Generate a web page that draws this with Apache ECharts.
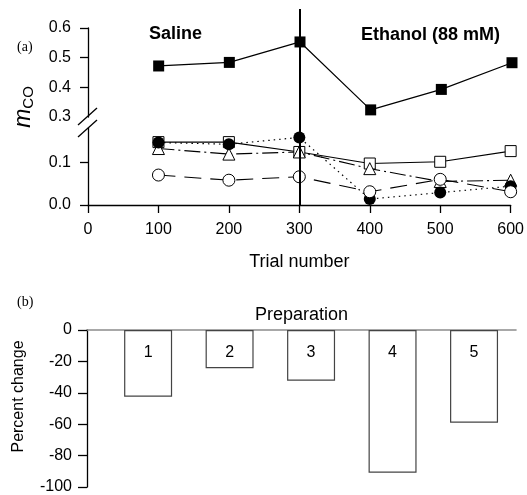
<!DOCTYPE html>
<html>
<head>
<meta charset="utf-8">
<script src="https://cdn.jsdelivr.net/npm/echarts@6/dist/echarts.min.js"></script>
<style>
html,body{margin:0;padding:0;background:#fff;}
#chart{width:527px;height:495px;}
</style>
</head>
<body>
<div id="chart"></div>
<script>
// ---- data ----
var trials = [100, 200, 300, 400, 500, 600];
var filledSquare = [0.472, 0.484, 0.553, 0.324, 0.393, 0.483];
var openSquare = [0.147, 0.147, 0.124, 0.097, 0.101, 0.126];
var openTriangle = [0.132, 0.119, 0.124, 0.085, 0.055, 0.058];
var filledCircle = [0.146, 0.142, 0.158, 0.014, 0.029, 0.044];
var openCircle = [0.070, 0.058, 0.066, 0.031, 0.060, 0.031];
var switchTrial = 300;
var upperTicks = [0.3, 0.4, 0.5, 0.6];
var lowerTicks = [0.0, 0.1];
var xTicks = [0, 100, 200, 300, 400, 500, 600];

var preparations = [1, 2, 3, 4, 5];
var percentChange = [-42.5, -24.4, -32.3, -90.9, -59.0];
var percentTicks = [0, -20, -40, -60, -80, -100];

function pairs(xs, ys) { return xs.map(function (x, i) { return [x, ys[i]]; }); }

var FONT = 'Liberation Sans, Arial, sans-serif';
var SERIF = 'Liberation Serif, DejaVu Serif, serif';
var axisLineStyle = { color: '#000', width: 1.3 };

var chart = echarts.init(document.getElementById('chart'), null, { renderer: 'canvas' });

var option = {
  animation: false,
  backgroundColor: '#fff',
  title: [
    { text: '(a)', left: 12, top: 35, textStyle: { fontFamily: SERIF, fontSize: 14, fontWeight: 'normal', color: '#000' } },
    { text: '(b)', left: 12, top: 290, textStyle: { fontFamily: SERIF, fontSize: 14, fontWeight: 'normal', color: '#000' } },
    { text: 'Saline', left: 144, top: 20, textStyle: { fontFamily: FONT, fontSize: 18, fontWeight: 'bold', color: '#000' } },
    { text: 'Ethanol (88 mM)', left: 356, top: 21, textStyle: { fontFamily: FONT, fontSize: 18, fontWeight: 'bold', color: '#000' } }
  ],
  grid: [
    { left: 88, width: 424, top: 9, height: 196 },   // overlay (switch line)
    { left: 88, width: 424, top: 28, height: 89 },   // upper segment
    { left: 88, width: 424, top: 128, height: 77 },  // lower segment
    { left: 87, width: 429, top: 330, height: 157 }  // panel b
  ],
  xAxis: [
    { gridIndex: 0, type: 'value', min: 0, max: 600, show: false },
    { gridIndex: 1, type: 'value', min: 0, max: 600, show: false },
    {
      gridIndex: 2, type: 'value', min: 0, max: 600, interval: 100,
      name: 'Trial number', nameLocation: 'middle', nameGap: 48,
      nameTextStyle: { fontFamily: FONT, fontSize: 18, color: '#000' },
      axisLine: { show: true, lineStyle: axisLineStyle },
      axisTick: { show: true, length: 8, lineStyle: axisLineStyle },
      axisLabel: { show: true, margin: 17, fontFamily: FONT, fontSize: 16, color: '#000',
        customValues: xTicks },
      splitLine: { show: false }
    },
    {
      gridIndex: 3, type: 'value', min: 0.25, max: 5.515, position: 'top',
      name: 'Preparation', nameLocation: 'middle', nameGap: 6,
      nameTextStyle: { fontFamily: FONT, fontSize: 18, color: '#000' },
      axisLine: { show: true, onZero: false, lineStyle: { color: '#8c8c8c', width: 1.6 } },
      axisTick: { show: false }, axisLabel: { show: false }, splitLine: { show: false }
    }
  ],
  yAxis: [
    {
      gridIndex: 0, type: 'value', min: 0, max: 1,
      name: '{m|m}{s|CO}', nameLocation: 'middle', nameGap: 52,
      nameTextStyle: { color: '#000', padding: [0, 0, 0, 0], rich: {
        m: { fontFamily: FONT, fontStyle: 'italic', fontSize: 23, color: '#000' },
        s: { fontFamily: FONT, fontSize: 15, color: '#000', padding: [10, 0, 0, 0] }
      } },
      axisLine: { show: false }, axisTick: { show: false }, axisLabel: { show: false }, splitLine: { show: false }
    },
    {
      gridIndex: 1, type: 'value', min: 0.3, max: 0.6,
      axisLine: { show: true, lineStyle: axisLineStyle },
      axisTick: { show: true, length: 8, lineStyle: axisLineStyle, customValues: [0.4, 0.5, 0.6] },
      axisLabel: { show: true, margin: 17, fontFamily: FONT, fontSize: 16, color: '#000',
        customValues: upperTicks, formatter: function (v) { return v.toFixed(1); } },
      splitLine: { show: false }
    },
    {
      gridIndex: 2, type: 'value', min: 0, max: 0.18,
      axisLine: { show: true, lineStyle: axisLineStyle },
      axisTick: { show: true, length: 8, lineStyle: axisLineStyle, customValues: lowerTicks },
      axisLabel: { show: true, margin: 17, fontFamily: FONT, fontSize: 16, color: '#000',
        customValues: lowerTicks, formatter: function (v) { return v.toFixed(1); } },
      splitLine: { show: false }
    },
    {
      gridIndex: 3, type: 'value', min: -100, max: 0, interval: 20,
      name: 'Percent change', nameLocation: 'middle', nameGap: 60,
      nameTextStyle: { fontFamily: FONT, fontSize: 16, color: '#000', padding: [0, 0, 0, 24] },
      axisLine: { show: true, lineStyle: axisLineStyle },
      axisTick: { show: true, length: 9, lineStyle: axisLineStyle },
      axisLabel: { show: true, margin: 15, fontFamily: FONT, fontSize: 16, color: '#000',
        customValues: percentTicks },
      splitLine: { show: false }
    }
  ],
  graphic: [
    { type: 'line', shape: { x1: 78, y1: 125, x2: 97, y2: 108 }, style: { stroke: '#000', lineWidth: 1.3 }, z: 100 },
    { type: 'line', shape: { x1: 78, y1: 137, x2: 97, y2: 120 }, style: { stroke: '#000', lineWidth: 1.3 }, z: 100 }
  ],
  series: [
    {
      name: 'filled squares', type: 'line', xAxisIndex: 1, yAxisIndex: 1,
      data: pairs(trials, filledSquare), symbol: 'rect', symbolSize: 11,
      lineStyle: { color: '#000', width: 1.2 },
      itemStyle: { color: '#000', borderColor: '#000', borderWidth: 0 }, z: 3
    },
    {
      name: 'open squares', type: 'line', xAxisIndex: 2, yAxisIndex: 2,
      data: pairs(trials, openSquare), symbol: 'rect', symbolSize: 11,
      lineStyle: { color: '#000', width: 1.1, type: 'solid' },
      itemStyle: { color: '#fff', borderColor: '#000', borderWidth: 1 }, z: 3
    },
    {
      name: 'open triangles', type: 'line', xAxisIndex: 2, yAxisIndex: 2,
      data: pairs(trials, openTriangle), symbol: 'triangle', symbolSize: 12,
      lineStyle: { color: '#000', width: 1.1, type: [16, 4, 2, 4] },
      itemStyle: { color: '#fff', borderColor: '#000', borderWidth: 1 }, z: 3
    },
    {
      name: 'filled circles', type: 'line', xAxisIndex: 2, yAxisIndex: 2,
      data: pairs(trials, filledCircle), symbol: 'circle', symbolSize: 12,
      lineStyle: { color: '#000', width: 1.2, type: [1.5, 4] },
      itemStyle: { color: '#000', borderColor: '#000', borderWidth: 0 }, z: 3
    },
    {
      name: 'open circles', type: 'line', xAxisIndex: 2, yAxisIndex: 2,
      data: pairs(trials, openCircle), symbol: 'circle', symbolSize: 12,
      lineStyle: { color: '#000', width: 1.1, type: [17, 9] },
      itemStyle: { color: '#fff', borderColor: '#000', borderWidth: 1 }, z: 3
    },
    {
      name: 'switch', type: 'line', xAxisIndex: 0, yAxisIndex: 0, data: [], z: 10,
      markLine: {
        silent: true, symbol: 'none', label: { show: false },
        lineStyle: { color: '#000', width: 2, type: 'solid' },
        data: [{ xAxis: switchTrial }]
      }
    },
    {
      name: 'percent change', type: 'bar', xAxisIndex: 3, yAxisIndex: 3,
      data: pairs(preparations, percentChange), barWidth: 48,
      itemStyle: { color: '#fff', borderColor: '#444', borderWidth: 1.2 },
      label: { show: true, position: 'insideTop', distance: 15, fontFamily: FONT, fontSize: 16, color: '#000',
        formatter: function (p) { return String(p.value[0]); } }
    }
  ]
};
chart.setOption(option);
</script>
</body>
</html>
